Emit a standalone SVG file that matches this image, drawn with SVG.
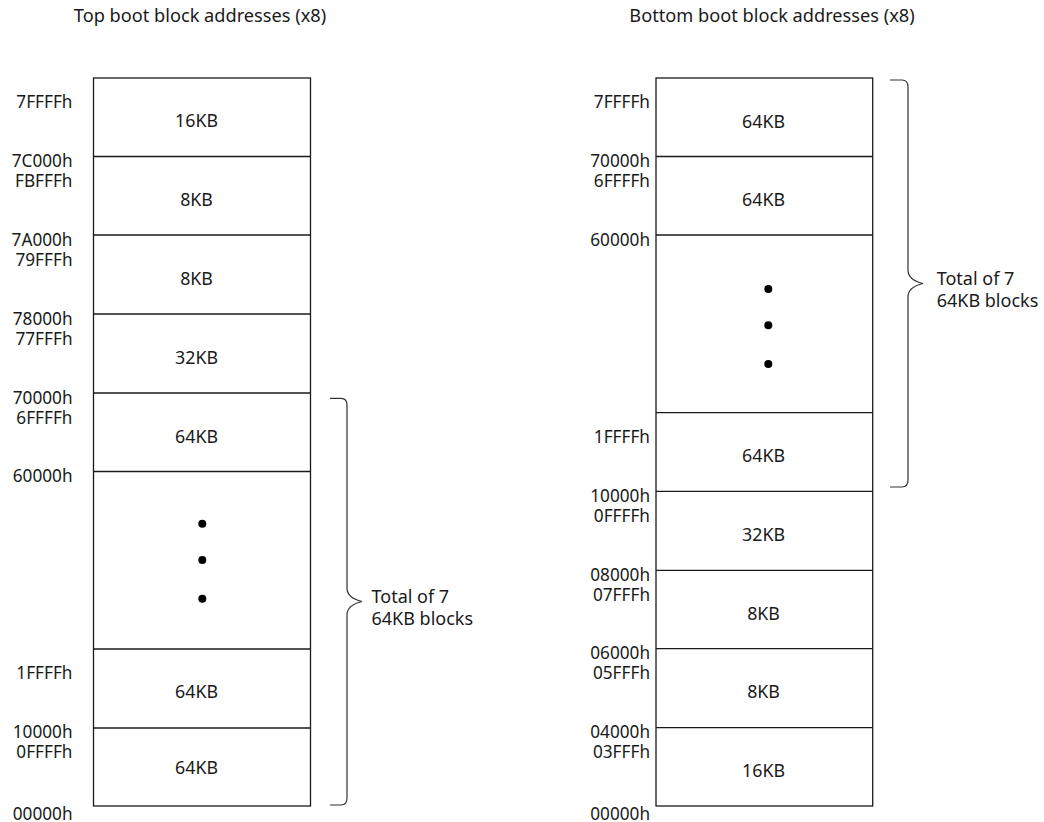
<svg xmlns="http://www.w3.org/2000/svg" width="1044" height="822" viewBox="0 0 1044 822">
<style>
text{font-family:"Noto Sans","Open Sans","DejaVu Sans",sans-serif;font-size:17.2px;fill:#1a1a1a}
.t{font-size:18.2px;text-anchor:middle}
.a{text-anchor:end}
.c{text-anchor:middle;font-size:17.8px}
.l{font-size:18px}
.box{fill:#fff;stroke:#1a1a1a;stroke-width:1.3}
.sep{stroke:#1a1a1a;stroke-width:1.3}
.br{fill:none;stroke:#333;stroke-width:1.2}
.dot{fill:#000}
</style>
<rect width="1044" height="822" fill="#fff"/>
<g id="top-boot">
<text x="200" y="21.5" class="t">Top boot block addresses (x8)</text>
<rect class="box" x="93.5" y="78" width="217" height="728"/>
<g class="sep">
<line x1="93.5" y1="156.5" x2="310.5" y2="156.5"/>
<line x1="93.5" y1="235" x2="310.5" y2="235"/>
<line x1="93.5" y1="314" x2="310.5" y2="314"/>
<line x1="93.5" y1="393" x2="310.5" y2="393"/>
<line x1="93.5" y1="471.5" x2="310.5" y2="471.5"/>
<line x1="93.5" y1="649" x2="310.5" y2="649"/>
<line x1="93.5" y1="728" x2="310.5" y2="728"/>
</g>
<text x="72.5" y="108.3" class="a">7FFFFh</text>
<text x="72.5" y="167" class="a">7C000h</text>
<text x="72.5" y="187" class="a">FBFFFh</text>
<text x="72.5" y="245.5" class="a">7A000h</text>
<text x="72.5" y="265.5" class="a">79FFFh</text>
<text x="72.5" y="324.5" class="a">78000h</text>
<text x="72.5" y="344.5" class="a">77FFFh</text>
<text x="72.5" y="403.5" class="a">70000h</text>
<text x="72.5" y="423.5" class="a">6FFFFh</text>
<text x="72.5" y="482" class="a">60000h</text>
<text x="72.5" y="679" class="a">1FFFFh</text>
<text x="72.5" y="737.5" class="a">10000h</text>
<text x="72.5" y="757.5" class="a">0FFFFh</text>
<text x="72.5" y="819.5" class="a">00000h</text>
<text x="196.5" y="127.3" class="c">16KB</text>
<text x="196.5" y="206" class="c">8KB</text>
<text x="196.5" y="285" class="c">8KB</text>
<text x="196.5" y="364" class="c">32KB</text>
<text x="196.5" y="443" class="c">64KB</text>
<text x="196.5" y="697.5" class="c">64KB</text>
<text x="196.5" y="774" class="c">64KB</text>
<circle class="dot" cx="202.3" cy="523.7" r="4"/>
<circle class="dot" cx="202.3" cy="560" r="4"/>
<circle class="dot" cx="202.3" cy="598.7" r="4"/>
</g>
<g id="bottom-boot">
<text x="772" y="21.5" class="t">Bottom boot block addresses (x8)</text>
<rect class="box" x="656" y="78" width="216.7" height="728"/>
<g class="sep">
<line x1="656" y1="156.5" x2="872.7" y2="156.5"/>
<line x1="656" y1="235" x2="872.7" y2="235"/>
<line x1="656" y1="412.7" x2="872.7" y2="412.7"/>
<line x1="656" y1="491.3" x2="872.7" y2="491.3"/>
<line x1="656" y1="570.3" x2="872.7" y2="570.3"/>
<line x1="656" y1="648.7" x2="872.7" y2="648.7"/>
<line x1="656" y1="727.7" x2="872.7" y2="727.7"/>
</g>
<text x="650" y="108.3" class="a">7FFFFh</text>
<text x="650" y="166.7" class="a">70000h</text>
<text x="650" y="186.7" class="a">6FFFFh</text>
<text x="650" y="245.7" class="a">60000h</text>
<text x="650" y="443.3" class="a">1FFFFh</text>
<text x="650" y="501.7" class="a">10000h</text>
<text x="650" y="521.7" class="a">0FFFFh</text>
<text x="650" y="580.7" class="a">08000h</text>
<text x="650" y="600.7" class="a">07FFFh</text>
<text x="650" y="659" class="a">06000h</text>
<text x="650" y="679" class="a">05FFFh</text>
<text x="650" y="738" class="a">04000h</text>
<text x="650" y="758" class="a">03FFFh</text>
<text x="650" y="819.5" class="a">00000h</text>
<text x="763.5" y="127.5" class="c">64KB</text>
<text x="763.5" y="206" class="c">64KB</text>
<text x="763.5" y="461.7" class="c">64KB</text>
<text x="763.5" y="540.7" class="c">32KB</text>
<text x="763.5" y="619.5" class="c">8KB</text>
<text x="763.5" y="698" class="c">8KB</text>
<text x="763.5" y="777" class="c">16KB</text>
<circle class="dot" cx="768.3" cy="289" r="4"/>
<circle class="dot" cx="768.3" cy="325.3" r="4"/>
<circle class="dot" cx="768.3" cy="364" r="4"/>
</g>
<g id="connectors">
<path class="br" d="M330,398.3 H341 Q347,398.3 347,405 V588 Q347,598 362,601.5 Q347,605 347,615 V798 Q347,805 341,805 H330"/>
<path class="br" d="M890,80 H902 Q908,80 908,87 V270 Q908,280 923,283.5 Q908,287 908,297 V480 Q908,487 902,487 H890"/>
</g>
<g id="brace-labels">
<text x="371.5" y="602.7" class="l">Total of 7</text>
<text x="371.5" y="624.5" class="l">64KB blocks</text>
<text x="936.7" y="284.5" class="l">Total of 7</text>
<text x="936.7" y="306.5" class="l">64KB blocks</text>
</g>
</svg>
